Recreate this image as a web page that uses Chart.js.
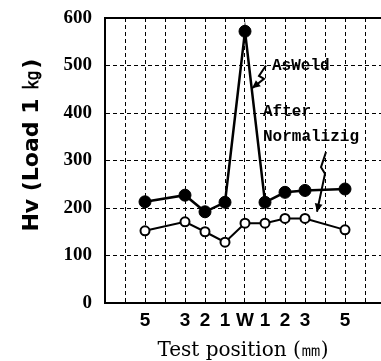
<!DOCTYPE html>
<html>
<head>
<meta charset="utf-8">
<script src="https://cdn.jsdelivr.net/npm/chart.js@4.4.0/dist/chart.umd.min.js"></script>
<style>
  html, body { margin: 0; padding: 0; background: #fff; }
  #wrap { width: 381px; height: 361px; }
</style>
</head>
<body>
<div id="wrap"><canvas id="hvChart" width="381" height="361"></canvas></div>
<script>
// test positions (mm from weld centre, W = 0)
const positions = [-5, -3, -2, -1, 0, 1, 2, 3, 5];
const positionLabels = ['5', '3', '2', '1', 'W', '1', '2', '3', '5'];

// hardness values
const asWeld = [213, 227, 192, 212, 572, 212, 233, 237, 240];
const afterNormalizing = [152, 171, 150, 128, 168, 168, 178, 178, 154];

const yTicks = [0, 100, 200, 300, 400, 500, 600];

function toPoints(values) {
    return positions.map((p, i) => ({ x: p, y: values[i] }));
}

// 注記（AsWeld / After Normalizig）と矢印
const notesPlugin = {
    id: 'notes',
    afterDatasetsDraw(chart) {
        const xs = chart.scales.x;
        const ys = chart.scales.y;
        const ctx = chart.ctx;
        const px = v => xs.getPixelForValue(v);
        const py = v => ys.getPixelForValue(v);

        ctx.save();
        ctx.fillStyle = '#000';
        ctx.font = 'bold 16px "Liberation Mono"';
        ctx.textAlign = 'left';
        ctx.textBaseline = 'middle';
        ctx.fillText('AsWeld', px(1.35), py(500));
        ctx.fillText('After', px(0.9), py(402));
        ctx.fillText('Normalizig', px(0.9), py(350));

        const arrow = (pts) => {
            ctx.beginPath();
            ctx.lineWidth = 2;
            ctx.strokeStyle = '#000';
            pts.forEach((p, i) => {
                const x = px(p[0]), y = py(p[1]);
                if (i === 0) ctx.moveTo(x, y); else ctx.lineTo(x, y);
            });
            ctx.stroke();
            // arrow head
            const a = pts[pts.length - 2], b = pts[pts.length - 1];
            const x1 = px(a[0]), y1 = py(a[1]), x2 = px(b[0]), y2 = py(b[1]);
            const ang = Math.atan2(y2 - y1, x2 - x1);
            ctx.beginPath();
            ctx.moveTo(x2, y2);
            ctx.lineTo(x2 - 9 * Math.cos(ang - 0.45), y2 - 9 * Math.sin(ang - 0.45));
            ctx.lineTo(x2 - 9 * Math.cos(ang + 0.45), y2 - 9 * Math.sin(ang + 0.45));
            ctx.closePath();
            ctx.fill();
        };
        arrow([[1.05, 500], [0.7, 478], [0.95, 472], [0.35, 452]]);
        arrow([[4.05, 318], [3.8, 286], [4.0, 272], [3.6, 192]]);
        ctx.restore();
    }
};

const ctx = document.getElementById('hvChart');

new Chart(ctx, {
    type: 'line',
    data: {
        datasets: [
            {
                label: 'As Weld',
                data: toPoints(asWeld),
                borderColor: '#000',
                borderWidth: 2.5,
                pointBackgroundColor: '#000',
                pointBorderColor: '#000',
                pointRadius: 6,
                pointBorderWidth: 1,
                tension: 0
            },
            {
                label: 'After Normalizing',
                data: toPoints(afterNormalizing),
                borderColor: '#000',
                borderWidth: 2,
                pointBackgroundColor: '#fff',
                pointBorderColor: '#000',
                pointRadius: 4.5,
                pointBorderWidth: 2,
                tension: 0
            }
        ]
    },
    options: {
        responsive: false,
        animation: false,
        layout: { autoPadding: false, padding: { top: 18, right: 0, left: 0, bottom: 0 } },
        plugins: {
            legend: { display: false },
            tooltip: { enabled: false }
        },
        scales: {
            x: {
                type: 'linear',
                min: -7,
                max: 6.8,
                afterFit: s => { s.height = 58; s.paddingLeft = 0; s.paddingRight = 0; },
                grid: { color: '#000', lineWidth: 1, drawTicks: false },
                border: { display: true, color: '#000', width: 2, dash: [4, 3] },
                ticks: {
                    stepSize: 1,
                    includeBounds: false,
                    autoSkip: false,
                    maxRotation: 0,
                    padding: 6,
                    color: '#000',
                    font: { family: '"Liberation Sans"', size: 19, weight: 'bold' },
                    callback: v => {
                        const i = positions.indexOf(v);
                        return i >= 0 ? positionLabels[i] : '';
                    }
                },
                title: {
                    display: true,
                    text: 'Test position (㎜)',
                    color: '#000',
                    padding: { top: 0, bottom: 0 },
                    font: { family: '"DejaVu Serif"', size: 20, lineHeight: 1 }
                }
            },
            xTop: {
                type: 'linear',
                position: 'top',
                min: -7,
                max: 6.8,
                afterFit: s => { s.height = 0; s.paddingLeft = 0; s.paddingRight = 0; },
                grid: { display: false, drawTicks: false },
                ticks: { display: false },
                border: { display: true, color: '#000', width: 2 }
            },
            y: {
                min: 0,
                max: 600,
                afterFit: s => { s.width = 105; s.paddingTop = 0; s.paddingBottom = 0; },
                grid: { color: '#000', lineWidth: 1, drawTicks: false },
                border: { display: true, color: '#000', width: 2, dash: [4, 3] },
                afterBuildTicks: s => { s.ticks = yTicks.map(v => ({ value: v })); },
                ticks: {
                    padding: 13,
                    color: '#000',
                    font: { family: '"Liberation Serif"', size: 19, weight: 'bold' }
                },
                title: {
                    display: true,
                    text: '    Hv (Load 1 ㎏)',
                    color: '#000',
                    padding: { top: 21, bottom: 0 },
                    font: { family: '"DejaVu Sans"', size: 22, weight: 'bold', lineHeight: 1 }
                }
            }
        }
    },
    plugins: [notesPlugin]
});
</script>
</body>
</html>
